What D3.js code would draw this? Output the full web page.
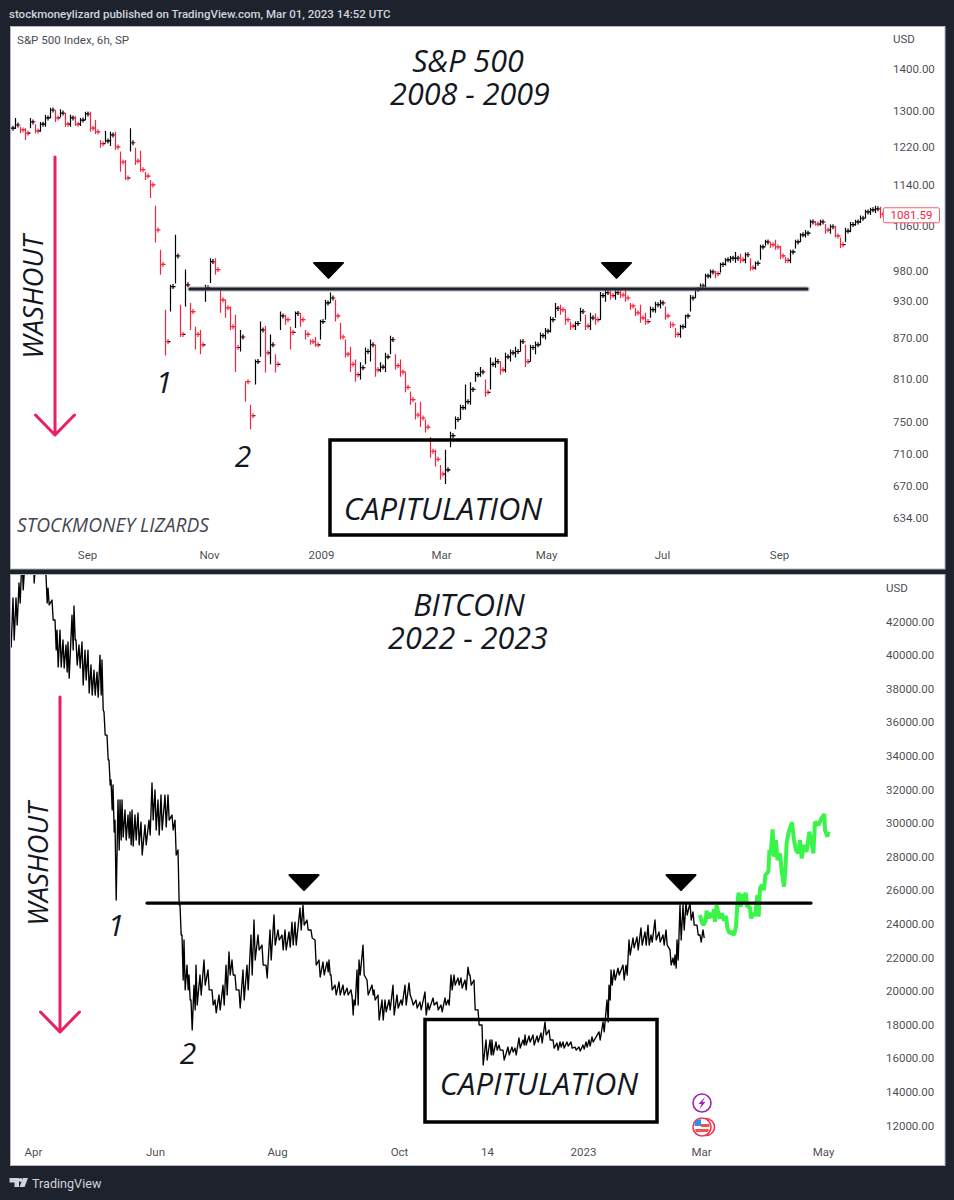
<!DOCTYPE html>
<html>
<head>
<meta charset="utf-8">
<style>
  html, body { margin: 0; padding: 0; background: #1e222d; }
  svg { display: block; }
  text { font-family: Roboto, sans-serif; }
  .note { font-family: "Open Sans", sans-serif; font-style: italic; fill: #131722; }
</style>
<script src="https://cdn.jsdelivr.net/npm/d3@7"></script>
</head>
<body>
<svg id="chart" width="954" height="1200"></svg>
<script>
// S&P 500 sessions, evenly spaced, Aug 2008 to Oct 2009
const spHigh = [1264,1282,1262,1259,1282,1268,1273,1289,1305,1300,1302,1293,1289,1286,1282,1296,1296,1277,1233,1253,1251,1251,1208,1190,1259,1216,1210,1166,1149,1098,1016,914,955,1043,922,981,925,887,882,955,1001,1001,950,930,919,906,882,805,773,837,895,888,875,845,911,906,887,911,909,882,867,871,898,930,942,930,893,867,856,837,833,855,867,859,833,847,873,845,837,818,791,776,777,753,730,714,695,714,737,757,773,801,804,819,826,808,840,840,834,847,852,856,867,859,859,864,878,885,903,925,922,914,895,895,917,906,909,908,943,947,948,950,947,947,925,917,922,909,919,927,930,919,895,885,890,906,938,950,957,974,981,979,993,1001,1005,1012,1009,1011,1001,995,1025,1034,1030,1034,1023,1003,1016,1034,1046,1052,1071,1069,1071,1063,1062,1060,1038,1056,1067,1071,1079,1090,1094,1098,1096];
const spLow = [1246,1257,1248,1233,1259,1248,1251,1262,1282,1273,1284,1262,1262,1264,1264,1277,1251,1246,1216,1227,1220,1212,1166,1149,1208,1180,1166,1149,1113,1029,972,843,911,957,871,919,882,852,845,927,958,972,909,901,882,819,849,777,740,801,841,818,830,818,882,890,852,885,887,867,859,856,867,898,925,895,867,840,819,805,808,830,834,812,819,819,845,822,812,790,773,753,743,736,704,693,677,672,717,740,753,766,773,805,812,784,794,825,815,818,834,840,849,826,834,845,859,867,878,901,906,890,882,882,895,882,882,890,898,927,930,930,933,927,914,904,893,890,901,909,916,898,885,870,870,885,911,933,945,950,966,966,976,988,993,993,992,992,979,981,998,1023,1019,1016,999,992,992,1018,1030,1038,1056,1060,1060,1045,1045,1038,1019,1030,1048,1060,1065,1074,1080,1084,1074];
const spClose = [1259,1266,1255,1248,1273,1253,1268,1282,1300,1282,1293,1268,1282,1268,1277,1291,1259,1251,1225,1231,1244,1218,1186,1153,1227,1188,1170,1157,1139,1052,990,864,952,1005,875,955,911,875,859,950,995,981,930,917,887,855,871,805,758,834,882,847,859,830,904,898,878,908,898,875,864,859,895,925,933,904,871,845,830,815,825,849,859,822,826,841,867,828,819,797,780,759,755,743,712,702,684,689,732,753,769,777,794,815,819,790,830,834,822,841,847,849,864,834,855,859,873,880,898,916,914,898,888,892,911,888,901,898,937,942,937,942,938,933,920,909,901,895,914,922,925,904,890,875,887,904,933,947,953,970,977,974,990,998,1001,1001,998,1007,984,992,1021,1030,1025,1021,1005,997,1012,1030,1043,1046,1067,1063,1067,1052,1058,1041,1025,1050,1062,1067,1074,1086,1090,1092,1081.59];

const spPriceTicks = [1400,1300,1220,1140,1060,980,930,870,810,750,710,670,634];
const spTimeLabels = ["Sep","Nov","2009","Mar","May","Jul","Sep"];
const spTimeSessions = [15.4,39.8,62.2,86.2,107.2,130.4,153.8];
const spNeckline = 948;
const spNecklineSpan = [36,159.4];
const spPeakSessions = [63.7,121.3];
const spPeakPrice = 965;

// Bitcoin: days since 1 Apr 2022, with the high and low seen around each day
const btcDay = [-11.5,-10,-8.5,-7,-5.5,-3.5,-1.5,0,2,4,5.5,6.5,7.5,9.5,11,12,13.5,15,16.5,17.5,19.5,20.5,21.5,23,24.5,26,27.5,29,30.5,32,33.5,34.5,35.5,37,38,39,40,41,42.5,43.5,44.5,46,47.5,48.5,49.5,51,52.5,54,56,58,59.5,61,62.5,64,66,67.5,69.5,71,72.5,73.5,74.5,75.5,77,78,79,80.5,81.5,83.5,85.5,87.5,89.5,91,93,95,96.5,98,99.5,101,103,105,107,109,110.5,112.5,114.5,116.5,118.5,120.5,122.5,124.5,126,128,129.5,131,133.5,135,137,139,141,143,145,147,148,149,151,153,155,157,159,159.5,160.5,162,163,165,167,169.5,170.5,172.5,174.5,176,178,180,182,184,186,188,189.5,191.5,193.5,196,197.5,200,202,204,206,207.5,209,210.5,212.5,214,216,217.5,218.5,220.5,222.5,224.5,226.5,228.5,229.5,231.5,233,235,237.5,239.5,241,243,245,246,248,250,252,254,256,258,260,262,263.5,265,267,269,271,273,275,276.5,278,279.5,283,285,287,288,289,290.5,292.5,295,296.5,298,300,302,304,306,307.5,309,311,313,315,316.5,318.5,320,321,322,323.5,325,326.5,328.5,330,332,333.5,335];
const btcHigh = [41460,43370,43370,44260,46000,46500,46800,46900,47000,46500,46000,44700,43960,43250,42060,41460,41460,40870,40570,40750,42350,42890,40870,40570,40750,40270,40270,39380,39080,38960,39970,39680,36580,35210,33730,32540,32240,30150,31350,31350,31350,30750,30450,30630,30750,30450,30570,30030,29860,30150,32360,31940,31350,31640,31640,31640,30450,30150,28370,25090,23310,23010,21520,20930,19440,20330,21520,20930,21820,21230,20040,19440,19740,20330,21520,22300,21820,20930,20040,21230,21520,23310,24200,23310,22710,21520,23610,24500,23610,23310,23610,23490,24080,24080,24920,25090,24200,23610,23010,21820,21700,21700,21820,20930,20330,20510,20330,20150,20040,19740,19440,21230,21820,22710,20630,20330,20040,19740,19440,19440,19440,20330,19740,19440,20330,20450,19440,19440,19320,19920,19260,19560,19320,19140,19560,19440,20930,20930,20750,20750,20630,21400,20930,20630,18850,17950,17060,17060,17060,16940,16760,16460,16640,16640,16580,17180,17060,17360,17300,17360,17300,17480,18130,17650,17060,16880,16940,16940,16940,16940,16640,16640,16760,16940,17060,17240,17540,18130,19440,20330,21230,21230,21340,21520,21520,23010,23130,23190,23730,23490,23900,23310,24200,23490,23310,23610,22420,21940,22120,23010,25090,25090,25210,25210,24680,23900,23310,23610,23900,24200];
const btcLow = [40450,40870,41760,43070,43850,46000,46000,44260,46000,46000,44800,43070,42950,42060,40270,39260,39260,39200,38960,38600,40270,40870,39380,39200,38190,38490,37710,37590,37590,37470,37590,36700,35210,33730,32240,30750,29440,25390,28370,28960,29140,28960,29080,28670,28610,28960,28670,28070,28670,29260,30150,29560,29260,29560,29740,30150,29560,28070,25090,23310,20630,20040,20040,19440,17650,18850,19140,19740,20330,20040,19140,18670,18850,19140,19740,20930,20930,20040,18960,19440,20040,20930,21820,22420,21520,20750,21820,22710,23010,22420,22420,22590,22710,22710,23610,23900,23610,23130,21520,20810,20930,21110,20930,20040,19740,19740,19740,19740,19560,18550,19140,19140,20930,20930,19740,19740,19440,18250,18250,18730,18850,18550,18960,19140,19140,19740,19140,18960,18850,18550,18850,19140,18850,18730,19140,19140,20040,20330,20330,20150,20040,20930,20330,18850,17950,15570,15870,16170,16170,16460,16460,15870,16170,16340,16170,16580,16760,16760,16940,16760,16940,16880,17360,17060,16580,16460,16640,16580,16700,16580,16460,16400,16520,16640,16700,16940,17060,17540,18130,19440,20330,20630,20930,20630,20930,22120,22540,22420,22710,22710,22710,22890,23010,22890,22710,22710,21520,21520,21340,21820,23010,23610,24500,24200,23900,23310,22890,23130,23130,23310];

// Hand-drawn projection continuing the Bitcoin chart
const projDay = [333.5,334.3,335.2,336.3,336.8,337.8,338.8,339.8,340.5,341,341.8,342.7,343.5,344.5,345.5,346.5,347.2,348.2,349.3,350.5,351.5,352.2,352.8,353.8,354.7,355.5,356.3,357.2,358.5,359,360.2,361,362.2,362.8,363.5,364.5,365.5,366.2,367.7,368.2,368.8,369.8,370.5,371.5,372.2,373.5,374.3,375.5,376.2,376.8,377.7,378.5,379.5,380.5,381.5,382.7,383.5,384.3,385.5,386.8,388.2,389.2,390.2,391,392.7,394.3,395.7,396,397.2,397.7];
const projPrice = [24500,24100,23900,24160,24760,24300,24600,24360,24840,24100,25090,24600,24300,24600,24160,24440,23710,23410,23510,23310,23800,25190,25830,25000,25750,25190,25830,25000,24950,24300,24600,24440,25690,24400,26090,26280,25990,26880,27080,28370,28070,29600,27970,28960,27770,28170,27180,26190,27180,28760,29360,29660,30010,28960,28370,28170,28960,27870,28670,28270,29460,28860,28170,30050,29860,30250,30510,29560,29160,29460];

const btcPriceTicks = [42000,40000,38000,36000,34000,32000,30000,28000,26000,24000,22000,20000,18000,16000,14000,12000];
const btcTimeLabels = ["Apr","Jun","Aug","Oct","14","2023","Mar","May"];
const btcTimeDates = ["2022-04-01","2022-06-01","2022-08-01","2022-10-01","2022-11-14","2023-01-01","2023-03-01","2023-05-01"];
const btcNeckline = 25210;
const btcNecklineDays = [57,389];
const btcPeakDays = [135.5,324];
const btcPeakPrice = 26580;

const svg = d3.select("#chart");
const dayMs = 864e5;
const btcStart = Date.UTC(2022, 3, 1);
const fromDay = d => new Date(btcStart + d * dayMs);

// Frame: dark page with two white chart panes
const panes = [
  {id: "top", x: 10, y: 26, w: 934.5, h: 542.5},
  {id: "bottom", x: 10, y: 574, w: 934.5, h: 591}
];
const defs = svg.append("defs");
panes.forEach(p => {
  svg.append("rect").attr("x", p.x + .5).attr("y", p.y + .5).attr("width", p.w).attr("height", p.h)
    .attr("fill", "#fff").attr("stroke", "#b2b5be");
  defs.append("clipPath").attr("id", "clip-" + p.id).append("rect")
    .attr("x", p.x + 1).attr("y", p.y + 1).attr("width", p.w - 1).attr("height", p.h - 1);
});

svg.append("text").attr("x", 9).attr("y", 18).attr("fill", "#d1d4dc").attr("font-size", 11.5).attr("font-weight", 500)
  .text("stockmoneylizard published on TradingView.com, Mar 01, 2023 14:52 UTC");

// ---- S&P 500 pane ----
const spX = d3.scaleLinear().domain([0, spClose.length - 1]).range([10, 880]);
const spY = d3.scaleLog().domain([1400, 634]).range([68, 517]);
const spBars = spClose.map((c, i) => ({
  i, high: spHigh[i], low: spLow[i], close: c, open: i ? spClose[i - 1] : c
}));
const barPath = b => {
  const x = Math.round(spX(b.i)) + .5;
  const p = d3.path();
  p.moveTo(x, spY(b.high)); p.lineTo(x, spY(b.low));
  p.moveTo(x - 2, spY(b.open)); p.lineTo(x, spY(b.open));
  p.moveTo(x, spY(b.close)); p.lineTo(x + 4, spY(b.close));
  // closing half-session printed right after the main bar
  p.moveTo(x + 2.5, spY(b.close) - 2.5); p.lineTo(x + 2.5, spY(b.close) + 2.5);
  return p.toString();
};
const topPlot = svg.append("g").attr("clip-path", "url(#clip-top)");
topPlot.selectAll("path.bar").data(spBars).join("path").attr("class", "bar")
  .attr("d", barPath).attr("fill", "none").attr("stroke-width", 1.2)
  .attr("stroke", b => b.close >= b.open ? "#000" : "#f7243f");

// neckline with its pale halo, then the peak markers
const necklineTop = d3.line().x(d => spX(d)).y(() => spY(spNeckline));
topPlot.append("path").attr("d", necklineTop(spNecklineSpan)).attr("stroke", "#9598a1").attr("stroke-opacity", .5)
  .attr("stroke-width", 5.5).attr("fill", "none").attr("stroke-linecap", "round");
topPlot.append("path").attr("d", necklineTop(spNecklineSpan)).attr("stroke", "#1e222d")
  .attr("stroke-width", 3).attr("fill", "none").attr("stroke-linecap", "round");
const peak = (px, tip) => `M${px - 14.5},${tip - 16}L${px + 14.5},${tip - 16}L${px},${tip - 1}Z`;
topPlot.selectAll("path.peak").data(spPeakSessions).join("path").attr("class", "peak")
  .attr("d", s => peak(spX(s), spY(spPeakPrice))).attr("fill", "#000").attr("stroke", "#000")
  .attr("stroke-width", 2).attr("stroke-linejoin", "round");

const spAxis = d3.axisRight(spY).tickValues(spPriceTicks).tickSize(0).tickPadding(0).tickFormat(d3.format(".2f"));
const styleAxis = g => {
  g.select(".domain").remove();
  g.selectAll("text").attr("fill", "#131722").attr("fill-opacity", .8).attr("font-size", 11.5).attr("font-family", "Roboto, sans-serif");
};
svg.append("g").attr("transform", "translate(893,0.5)").call(spAxis).call(styleAxis);
const spTimeAxis = d3.axisBottom(spX).tickValues(spTimeSessions).tickSize(0).tickPadding(0)
  .tickFormat((d, i) => spTimeLabels[i]);
svg.append("g").attr("transform", "translate(0,551)").call(spTimeAxis).call(styleAxis);

// last price flag
const flagY = spY(spClose[spClose.length - 1]);
svg.append("rect").attr("x", 883.5).attr("y", flagY - 6.5).attr("width", 56).attr("height", 15).attr("rx", 1.5)
  .attr("fill", "#fff").attr("stroke", "#ff5b72");
svg.append("text").attr("x", 911.5).attr("y", flagY + 5).attr("text-anchor", "middle").attr("fill", "#f7243f").attr("font-size", 11.5)
  .text(spClose[spClose.length - 1].toFixed(2));

svg.append("text").attr("x", 17).attr("y", 44).attr("fill", "#4a4d57").attr("font-size", 11.6).text("S&P 500 Index, 6h, SP");
svg.append("text").attr("x", 893).attr("y", 43).attr("fill", "#4a4d57").attr("font-size", 11.5).text("USD");

// ---- Bitcoin pane ----
const btcX = d3.scaleUtc().domain([fromDay(0), fromDay(395)]).range([33, 823]);
const btcY = d3.scaleLinear().domain([12000, 42000]).range([1125, 621]);
const btcZig = btcDay.flatMap((d, i) => [[d, btcHigh[i]], [d + .6, btcLow[i]]]);
const btcLine = d3.line().x(d => btcX(fromDay(d[0]))).y(d => btcY(d[1]));
const botPlot = svg.append("g").attr("clip-path", "url(#clip-bottom)");

// boxed caption sits under the price line
const boxes = [[330, 440, 236, 95], [425, 1019.5, 232, 102.5]];
svg.selectAll("rect.box").data(boxes).join("rect").attr("class", "box")
  .attr("x", d => d[0]).attr("y", d => d[1]).attr("width", d => d[2]).attr("height", d => d[3])
  .attr("fill", "none").attr("stroke", "#000").attr("stroke-width", 3.5);

botPlot.append("path").attr("d", btcLine(btcZig)).attr("fill", "none").attr("stroke", "#000").attr("stroke-width", 1.35).attr("stroke-linejoin", "round");
botPlot.append("path").attr("d", d3.line().x((d, i) => btcX(fromDay(projDay[i]))).y(d => btcY(d))(projPrice))
  .attr("fill", "none").attr("stroke", "#39f54a").attr("stroke-width", 4).attr("stroke-linejoin", "bevel");

const necklineBot = d3.line().x(d => btcX(fromDay(d))).y(() => btcY(btcNeckline));
botPlot.append("path").attr("d", necklineBot(btcNecklineDays)).attr("stroke", "#000")
  .attr("stroke-width", 3.2).attr("fill", "none").attr("stroke-linecap", "round");
botPlot.selectAll("path.peak").data(btcPeakDays).join("path").attr("class", "peak")
  .attr("d", d => peak(btcX(fromDay(d)), btcY(btcPeakPrice) + 11)).attr("fill", "#000").attr("stroke", "#000")
  .attr("stroke-width", 2).attr("stroke-linejoin", "round");

const btcAxis = d3.axisRight(btcY).tickValues(btcPriceTicks).tickSize(0).tickPadding(0).tickFormat(d3.format(".2f"));
svg.append("g").attr("transform", "translate(886,0.5)").call(btcAxis).call(styleAxis);
const btcTimeAxis = d3.axisBottom(btcX).tickValues(btcTimeDates.map(d => new Date(d + "T00:00:00Z"))).tickSize(0).tickPadding(0)
  .tickFormat((d, i) => btcTimeLabels[i]);
svg.append("g").attr("transform", "translate(0,1148)").call(btcTimeAxis).call(styleAxis);
svg.append("text").attr("x", 886).attr("y", 592).attr("fill", "#4a4d57").attr("font-size", 11.5).text("USD");

// ---- Drawn notes ----
const note = (txt, x, y, size, anchor = "middle", extra = {}) => {
  const t = svg.append("text").attr("class", "note").attr("x", x).attr("y", y)
    .attr("font-size", size).attr("text-anchor", anchor).text(txt);
  Object.entries(extra).forEach(([k, v]) => t.attr(k, v));
  return t;
};
note("S&P 500", 468, 72, 30.5);
note("2008 - 2009", 470, 105, 30.5);
note("BITCOIN", 469, 616, 30.5);
note("2022 - 2023", 468, 649, 30.5);
note("CAPITULATION", 443, 520, 31);
note("CAPITULATION", 539, 1095, 31);
note("1", 164, 393, 30);
note("2", 243, 467, 30);
note("1", 116, 936, 30);
note("2", 188, 1064, 30);
note("WASHOUT", 0, 0, 27.5, "middle", {transform: "translate(43,297) rotate(-90)"});
note("WASHOUT", 0, 0, 27.5, "middle", {transform: "translate(48,864) rotate(-90)"});
note("STOCKMONEY LIZARDS", 17, 532, 19.2, "start", {style: "fill:#434651"});

// Washout arrows
const arrows = [[55, 157, 435], [60, 697, 1032]];
arrows.forEach(([x, y0, y1]) => {
  svg.append("path").attr("d", `M${x},${y0}L${x},${y1}M${x - 19.5},${y1 - 20}L${x},${y1}L${x + 19.5},${y1 - 20}`)
    .attr("fill", "none").attr("stroke", "#e91e63").attr("stroke-width", 3).attr("stroke-linejoin", "round").attr("stroke-linecap", "round");
});

// Event badges on the time scale
const badges = svg.append("g").attr("transform", "translate(702,0)");
badges.append("circle").attr("cy", 1103).attr("r", 9).attr("fill", "#fff").attr("stroke", "#9c27b0").attr("stroke-width", 1.6);
badges.append("path").attr("d", "M3,1097L-3.5,1104L-.5,1104L-2.5,1109L3.5,1102L.5,1102Z").attr("fill", "#9c27b0");
badges.append("circle").attr("cx", 4).attr("cy", 1127).attr("r", 8.5).attr("fill", "#fff").attr("stroke", "#f7324f").attr("stroke-width", 1.6);
badges.append("circle").attr("cy", 1127).attr("r", 9).attr("fill", "#fff").attr("stroke", "#f7324f").attr("stroke-width", 1.6);
badges.append("path").attr("d", "M-7,1129L7,1129L6,1132L-6,1132Z").attr("fill", "#ef5350");
badges.append("path").attr("d", "M-1,1124L7.5,1124L7.5,1127L-1,1127Z").attr("fill", "#ef5350");
badges.append("path").attr("d", "M-7.5,1126L-7,1122A8,8 0 0 1 -1,1119L-1,1126Z").attr("fill", "#2196f3");

// Footer logo
svg.append("path").attr("d", "M9.5,1178L19,1178L19,1187L14.5,1187L14.5,1182.5L9.5,1182.5Z M28,1178L24.5,1187L19.5,1187L23,1178Z")
  .attr("fill", "#d1d4dc");
svg.append("circle").attr("cx", 20.8).attr("cy", 1180).attr("r", 2).attr("fill", "#d1d4dc");
svg.append("text").attr("x", 32).attr("y", 1188).attr("fill", "#d1d4dc").attr("font-size", 12.6).text("TradingView");
</script>
</body>
</html>
